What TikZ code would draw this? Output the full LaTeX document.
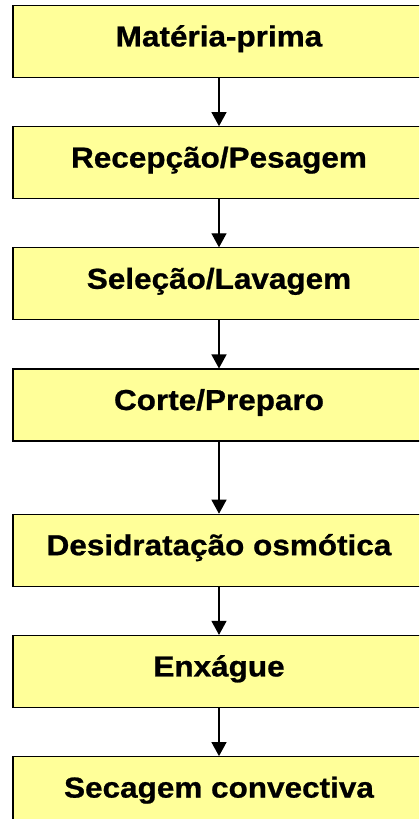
\documentclass[tikz,border=0pt]{standalone}
\usepackage{fontspec}
\newfontfamily\boxfont{Liberation Sans Bold}[FakeStretch=1.09,FakeBold=0.8]
\usetikzlibrary{positioning,arrows.meta}
\definecolor{boxyellow}{HTML}{FFFF99}
\begin{document}
\begin{tikzpicture}[x=1bp,y=1bp,
  etapa/.style={draw=black,line width=1.2bp,fill=boxyellow,minimum width=412bp,minimum height=72bp,
    inner sep=0pt,text height=21bp,text depth=11.2bp,font=\boxfont\fontsize{29}{34}\selectfont},
  seta/.style={line width=1.3bp,-{Triangle[width=15bp,length=14bp]}},
  node distance=48bp]
 \clip (0,0) rectangle (419,819);
 \node [etapa] (materia) at (219,777.5) {Matéria-prima};
 \node [etapa,below=of materia] (recepcao) {Recepção/Pesagem};
 \node [etapa,below=of recepcao] (selecao) {Seleção/Lavagem};
 \node [etapa,below=of selecao] (corte) {Corte/Preparo};
 \node [etapa,below=72bp of corte] (desidratacao) {Desidratação osmótica};
 \node [etapa,below=of desidratacao] (enxague) {Enxágue};
 \node [etapa,below=of enxague] (secagem) {Secagem convectiva};
 \draw [seta] (materia) -- (recepcao);
 \draw [seta] (recepcao) -- (selecao);
 \draw [seta] (selecao) -- (corte);
 \draw [seta] (corte) -- (desidratacao);
 \draw [seta] (desidratacao) -- (enxague);
 \draw [seta] (enxague) -- (secagem);
\end{tikzpicture}
\end{document}
